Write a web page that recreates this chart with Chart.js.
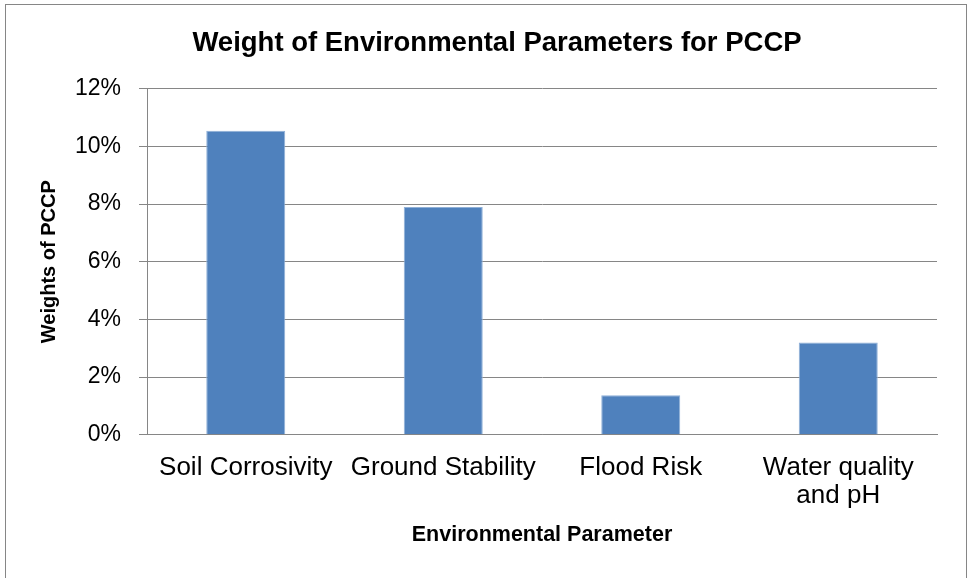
<!DOCTYPE html>
<html>
<head>
<meta charset="utf-8">
<script src="https://cdn.jsdelivr.net/npm/chart.js@4/dist/chart.umd.min.js"></script>
<style>
  html, body { margin: 0; padding: 0; background: #fff; }
  #wrap { width: 969px; height: 578px; position: relative; }
</style>
</head>
<body>
<div id="wrap"><canvas id="c" width="969" height="578"></canvas></div>
<script>
const categories = ['Soil Corrosivity', 'Ground Stability', 'Flood Risk', ['Water quality', 'and pH']];
const weights = [10.54, 7.90, 1.37, 3.20];
const yTicks = [0, 2, 4, 6, 8, 10, 12];
const chartTitle = 'Weight of Environmental Parameters for PCCP';
const xTitle = 'Environmental Parameter';
const yTitle = 'Weights of PCCP';

const GRID = '#868686';
const FONT = "'Liberation Sans', Arial, sans-serif";

const frame = {
  id: 'frame',
  beforeDraw(chart) {
    const ctx = chart.ctx;
    ctx.save();
    ctx.fillStyle = '#fff';
    ctx.fillRect(0, 0, chart.width, chart.height);
    ctx.strokeStyle = GRID;
    ctx.lineWidth = 1;
    ctx.strokeRect(5.5, 4.5, 961, 700);
    ctx.restore();
  }
};

new Chart(document.getElementById('c'), {
  type: 'bar',
  data: {
    labels: categories,
    datasets: [{
      data: weights,
      backgroundColor: '#4F81BD',
      borderColor: '#8FB0D8',
      borderWidth: 1,
      barPercentage: 0.4,
      categoryPercentage: 1.0
    }]
  },
  options: {
    responsive: false,
    animation: false,
    layout: { padding: { left: 57, right: 32, top: 0, bottom: 0 } },
    plugins: {
      legend: { display: false },
      tooltip: { enabled: false },
      title: {
        display: true,
        text: chartTitle,
        color: '#000',
        font: { family: FONT, size: 27.5, weight: 'bold', lineHeight: 1.2 },
        padding: { top: 26.5, bottom: 29.2 }
      }
    },
    scales: {
      x: {
        grid: { display: false, drawTicks: false },
        border: { display: true, color: GRID, width: 1 },
        ticks: {
          color: '#000',
          font: { family: FONT, size: 26, lineHeight: 1.08 },
          padding: 19.5,
          maxRotation: 0,
          autoSkip: false
        },
        title: {
          display: true,
          text: xTitle,
          color: '#000',
          font: { family: FONT, size: 21.5, weight: 'bold', lineHeight: 1.2 },
          padding: { top: 0, bottom: 30 }
        },
        afterFit(scale) { scale.height = 143.3; }
      },
      y: {
        min: 0,
        max: 12,
        afterBuildTicks(scale) { scale.ticks = yTicks.map(v => ({ value: v })); },
        grid: { color: GRID, lineWidth: 1, drawTicks: true, tickLength: 8 },
        border: { display: true, color: GRID, width: 1 },
        ticks: {
          color: '#000',
          font: { family: FONT, size: 23 },
          padding: 18,
          callback: v => v + '%'
        },
        title: {
          display: true,
          text: yTitle,
          color: '#000',
          font: { family: FONT, size: 20, weight: 'bold', lineHeight: 1.2 },
          padding: { top: -20, bottom: 0 }
        },
        afterFit(scale) { scale.width = 90; }
      }
    }
  },
  plugins: [frame]
});
</script>
</body>
</html>
